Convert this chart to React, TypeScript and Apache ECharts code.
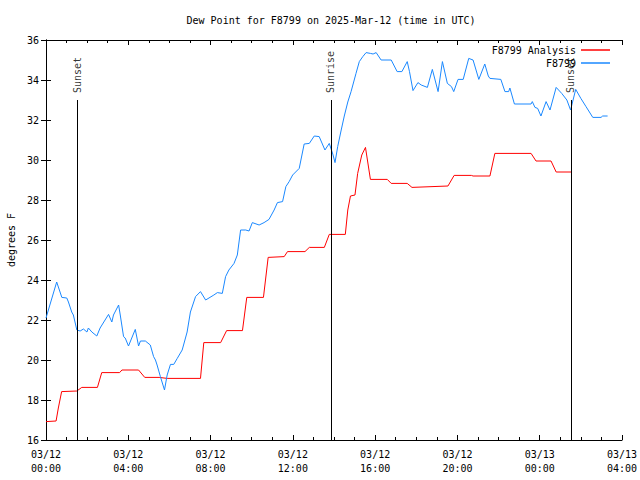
import React, { useEffect, useRef } from "react";
import * as echarts from "echarts";

// Hours since 2025-03-12 00:00 UTC
const analysisTimes = [0, 0.49, 0.6, 0.76, 1.5, 1.74, 2.5, 2.71, 3.58, 3.69, 4.5, 4.8, 5.5, 5.89, 7.51, 7.67, 8.49, 8.78, 9.55, 9.76, 10.57, 10.8, 11.58, 11.74, 12.59, 12.8, 13.53, 13.77, 14.55, 14.67, 14.8, 15.02, 15.15, 15.35, 15.53, 15.77, 16.59, 16.78, 17.56, 17.79, 19.54, 19.84, 20.68, 20.76, 21.58, 21.82, 23.58, 23.82, 24.55, 24.8, 25.52];
const analysisValues = [16.92, 16.95, 17.6, 18.42, 18.45, 18.63, 18.63, 19.37, 19.37, 19.5, 19.5, 19.13, 19.13, 19.08, 19.08, 20.87, 20.87, 21.47, 21.47, 23.13, 23.13, 25.13, 25.17, 25.42, 25.42, 25.63, 25.63, 26.28, 26.28, 27.5, 28.2, 28.25, 29.33, 30.25, 30.63, 29.03, 29.03, 28.83, 28.83, 28.63, 28.7, 29.23, 29.23, 29.2, 29.2, 30.33, 30.33, 29.95, 29.95, 29.4, 29.4];

const stationTimes = [0, 0.52, 0.77, 1.01, 1.09, 1.25, 1.33, 1.5, 1.66, 1.82, 1.99, 2.06, 2.23, 2.47, 2.63, 3.04, 3.2, 3.28, 3.53, 3.61, 3.77, 3.85, 4.01, 4.34, 4.5, 4.59, 4.83, 5.07, 5.23, 5.32, 5.4, 5.56, 5.76, 5.89, 6.05, 6.21, 6.38, 6.62, 6.7, 6.86, 7.02, 7.27, 7.51, 7.76, 8.16, 8.33, 8.57, 8.73, 8.89, 9.14, 9.3, 9.46, 9.71, 9.87, 10.03, 10.36, 10.6, 10.84, 11.09, 11.25, 11.5, 11.66, 11.82, 11.99, 12.31, 12.55, 12.8, 13.04, 13.28, 13.56, 13.77, 13.94, 14.05, 14.18, 14.34, 14.5, 14.67, 14.83, 15.07, 15.23, 15.4, 15.56, 15.77, 15.9, 16.05, 16.29, 16.78, 17.07, 17.3, 17.56, 17.67, 17.84, 18.08, 18.24, 18.54, 18.78, 19.06, 19.27, 19.51, 19.71, 19.82, 20.03, 20.28, 20.55, 20.76, 21.04, 21.33, 21.5, 21.58, 22.11, 22.31, 22.49, 22.55, 22.77, 23.58, 23.64, 23.77, 23.9, 24.06, 24.31, 24.5, 24.8, 25.07, 25.32, 25.5, 25.75, 26.0, 26.25, 26.58, 26.98, 27.06, 27.3];
const stationValues = [22.1, 23.9, 23.13, 23.1, 22.9, 22.4, 22.25, 21.5, 21.45, 21.55, 21.4, 21.6, 21.4, 21.2, 21.6, 22.28, 21.9, 22.25, 22.75, 22.25, 21.17, 21.1, 20.7, 21.53, 20.7, 20.95, 20.95, 20.75, 20.17, 20.0, 19.75, 19.17, 18.5, 19.25, 19.78, 19.78, 20.08, 20.5, 20.8, 21.4, 22.4, 23.17, 23.42, 23.0, 23.25, 23.37, 23.33, 24.17, 24.5, 24.83, 25.25, 26.5, 26.5, 26.45, 26.87, 26.75, 26.87, 27.03, 27.5, 27.87, 27.92, 28.67, 28.92, 29.25, 29.58, 30.8, 30.83, 31.2, 31.17, 30.5, 30.83, 30.3, 29.87, 30.67, 31.45, 32.2, 32.9, 33.42, 34.33, 34.92, 35.17, 35.37, 35.33, 35.3, 35.37, 35.0, 35.0, 34.42, 34.42, 34.92, 34.42, 33.47, 33.87, 33.75, 33.63, 34.53, 33.42, 34.92, 33.83, 33.67, 33.42, 34.03, 34.03, 35.08, 35.0, 34.03, 34.8, 34.2, 34.08, 34.03, 33.42, 33.42, 33.6, 32.8, 32.8, 32.92, 32.63, 32.58, 32.2, 32.92, 32.5, 33.63, 33.33, 33.0, 32.5, 33.53, 33.08, 32.67, 32.13, 32.13, 32.2, 32.2];

const sunEventNames = ["Sunset", "Sunrise", "Sunset"];
const sunEventTimes = [1.51, 13.85, 25.52];
const sunLineTop = 33;
const sunLineBottom = 16;

const seriesNames = ["F8799 Analysis", "F8799"];
const seriesColors = ["#ff0000", "#1a88ff"];

const FONT = "DejaVu Sans Mono";

function fmtTime(h: number): string {
  const day = 12 + Math.floor(h / 24);
  const hh = Math.round(h % 24);
  return `03/${day}\n${String(hh).padStart(2, "0")}:00`;
}

export default function App() {
  const ref = useRef<HTMLDivElement>(null);
  useEffect(() => {
    if (!ref.current) return;
    const chart = echarts.init(ref.current, null, { renderer: "svg" });
    const analysisData = analysisTimes.map((t, i) => [t, analysisValues[i]]);
    const stationData = stationTimes.map((t, i) => [t, stationValues[i]]);
    const sunLabelData = sunEventTimes.map((t, i) => [t, sunLineTop, sunEventNames[i]]);
    const axisLine = { show: true, lineStyle: { color: "#000", width: 1 } };
    const xCommon = {
      type: "value" as const,
      min: 0,
      max: 28,
      interval: 4,
      axisLine,
      axisTick: { show: true, inside: true, length: 5, lineStyle: { color: "#000" } },
      minorTick: { show: true, splitNumber: 4, length: 3, lineStyle: { color: "#000" } },
      splitLine: { show: false },
    };
    const yCommon = {
      type: "value" as const,
      min: 16,
      max: 36,
      interval: 2,
      axisLine,
      axisTick: { show: true, inside: true, length: 5, lineStyle: { color: "#000" } },
      splitLine: { show: false },
    };
    const legendCommon = {
      right: 30,
      padding: 0,
      align: "right",
      icon: "rect",
      itemWidth: 29,
      itemHeight: 1.5,
      textStyle: { fontFamily: FONT, fontSize: 10, color: "#000" },
    };
    chart.setOption({
      animation: false,
      backgroundColor: "#fff",
      title: {
        text: "Dew Point for F8799 on 2025-Mar-12 (time in UTC)",
        left: 331,
        textAlign: "center",
        top: 15,
        padding: 0,
        textStyle: { fontFamily: FONT, fontSize: 10, fontWeight: "normal", color: "#000" },
      },
      legend: [
        { ...legendCommon, data: [seriesNames[0]], top: 45 },
        { ...legendCommon, data: [seriesNames[1]], top: 58 },
      ],
      grid: { left: 46, right: 18, top: 40, bottom: 40, containLabel: false, outerBoundsMode: "none" },
      xAxis: [
        {
          ...xCommon,
          position: "bottom",
          axisLabel: {
            show: true,
            formatter: (v: number) => fmtTime(v),
            fontFamily: FONT,
            fontSize: 10,
            color: "#000",
            lineHeight: 14,
            margin: 7,
          },
        },
        { ...xCommon, position: "top", axisLabel: { show: false } },
      ],
      yAxis: [
        {
          ...yCommon,
          position: "left",
          name: "degrees F",
          nameLocation: "middle",
          nameGap: 30,
          nameRotate: 90,
          nameTextStyle: { fontFamily: FONT, fontSize: 10, color: "#000" },
          axisLabel: { show: true, fontFamily: FONT, fontSize: 10, color: "#000", margin: 7 },
        },
        { ...yCommon, position: "right", axisLabel: { show: false } },
      ],
      series: [
        {
          name: seriesNames[0],
          type: "line",
          data: analysisData,
          showSymbol: false,
          symbol: "none",
          color: seriesColors[0],
          lineStyle: { color: seriesColors[0], width: 1 },
          z: 3,
        },
        {
          name: seriesNames[1],
          type: "line",
          data: stationData,
          showSymbol: false,
          symbol: "none",
          color: seriesColors[1],
          lineStyle: { color: seriesColors[1], width: 1 },
          z: 3,
        },
        {
          name: "sun",
          type: "scatter",
          data: sunLabelData,
          symbolSize: 0,
          silent: true,
          z: 4,
          label: {
            show: true,
            formatter: (p: any) => p.value[2],
            position: "top",
            distance: 7,
            rotate: 90,
            align: "left",
            verticalAlign: "middle",
            fontFamily: FONT,
            fontSize: 10,
            color: "#000",
          },
          markLine: {
            silent: true,
            symbol: "none",
            label: { show: false },
            lineStyle: { color: "#000", width: 1, type: "solid" },
            data: sunEventTimes.map((t) => [
              { coord: [t, sunLineBottom] },
              { coord: [t, sunLineTop] },
            ]),
          },
        },
      ],
    });
    return () => chart.dispose();
  }, []);
  return <div ref={ref} style={{ width: 640, height: 480, position: "absolute", left: 0, top: 0 }} />;
}
